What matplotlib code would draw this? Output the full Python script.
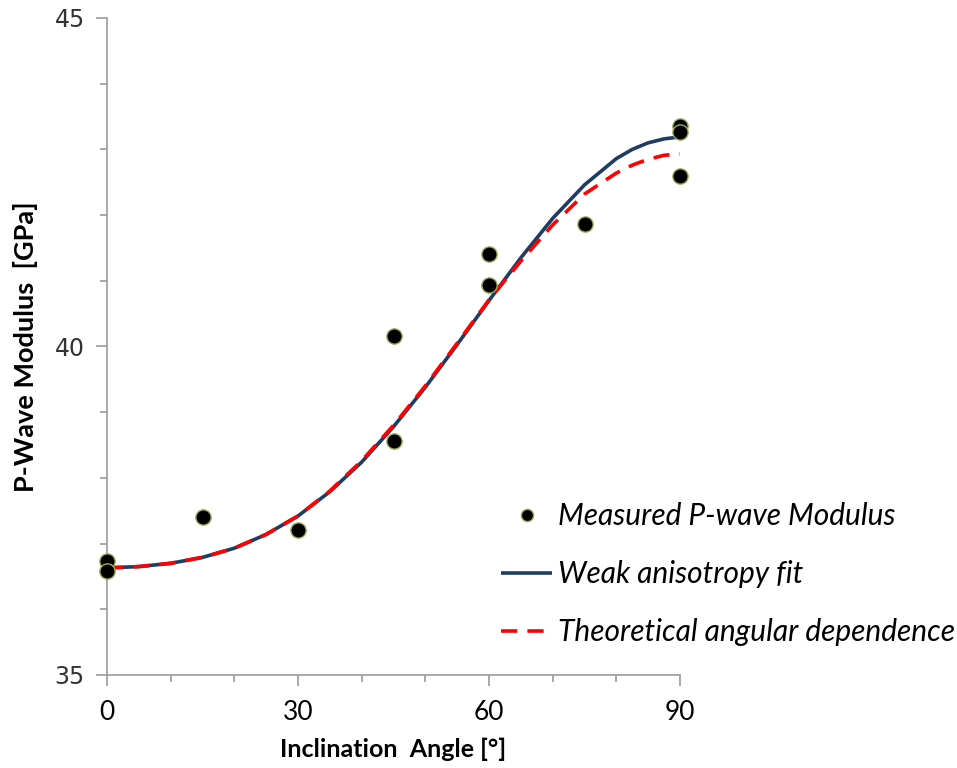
import matplotlib.pyplot as plt
from matplotlib.ticker import MultipleLocator

# measured points
angle_meas = [0, 0, 15, 30, 45, 45, 60, 60, 75, 90, 90, 90]
mod_meas = [36.74, 36.58, 37.40, 37.21, 40.16, 38.56, 41.41, 40.94, 41.86, 43.36, 43.26, 42.60]

# curves
angle_curve = [0, 5, 10, 15, 20, 25, 30, 35, 40, 45, 50, 55, 60, 65, 70, 75, 80, 82.5, 85, 87.5, 90]
mod_fit = [36.63, 36.65, 36.70, 36.79, 36.93, 37.14, 37.42, 37.79, 38.24, 38.78,
           39.38, 40.03, 40.70, 41.35, 41.95, 42.46, 42.86, 43.00, 43.10, 43.16, 43.19]
mod_theory = [36.63, 36.65, 36.70, 36.79, 36.93, 37.14, 37.42, 37.80, 38.26, 38.80,
              39.40, 40.05, 40.71, 41.30, 41.85, 42.32, 42.64, 42.76, 42.85, 42.91, 42.93]

fig = plt.figure(figsize=(9.57, 7.68), dpi=100)
ax = fig.add_axes([0.1118, 0.1211, 0.5988, 0.8555])

ax.plot(angle_curve, mod_fit, color='#1f3d63', lw=2.6, solid_capstyle='butt',
        label='Weak anisotropy fit', zorder=2)
ax.plot(angle_curve, mod_theory, color='#ff0000', lw=2.6, dashes=(4.5, 2.8),
        label='Theoretical angular dependence', zorder=3)
ax.plot(angle_meas, mod_meas, 'o', ms=11, mfc='black', mec='#9bad5a', mew=1.0,
        label='Measured P-wave Modulus', zorder=4, clip_on=False)

ax.set_xlim(0, 90)
ax.set_ylim(35, 45)
ax.xaxis.set_major_locator(MultipleLocator(30))
ax.xaxis.set_minor_locator(MultipleLocator(10))
ax.yaxis.set_major_locator(MultipleLocator(5))
ax.yaxis.set_minor_locator(MultipleLocator(1))

for s in ['top', 'right']:
    ax.spines[s].set_visible(False)
for s in ['left', 'bottom']:
    ax.spines[s].set_color('#9a9a9a')
    ax.spines[s].set_linewidth(1.2)

ax.tick_params(which='both', direction='out', color='#9a9a9a', width=1.2)
ax.tick_params(which='major', length=8)
ax.tick_params(which='minor', length=5)
ax.tick_params(axis='y', which='major', labelsize=17, labelcolor='#333333', pad=8)
ax.tick_params(axis='x', which='major', labelsize=19, pad=10)
for lbl in ax.get_xticklabels():
    lbl.set_family('Lato')
for lbl in ax.get_yticklabels():
    lbl.set_family('DejaVu Sans')

ax.set_xlabel('Inclination  Angle [°]', family='Lato', fontweight='bold', fontsize=18, labelpad=9)
ax.set_ylabel('P-Wave Modulus  [GPa]', family='Lato', fontweight='bold', fontsize=19.5, labelpad=12)

handles, labels = ax.get_legend_handles_labels()
order = [2, 0, 1]
leg = fig.legend([handles[i] for i in order], [labels[i] for i in order],
                 loc='upper left', bbox_to_anchor=(0.524, 0.346), frameon=False,
                 prop={'family': 'Lato', 'style': 'italic', 'size': 21.5},
                 borderpad=0, borderaxespad=0,
                 handlelength=1.7, handletextpad=0.2, labelspacing=1.0, markerscale=0.8)

fig.savefig('out.png', dpi=100)
